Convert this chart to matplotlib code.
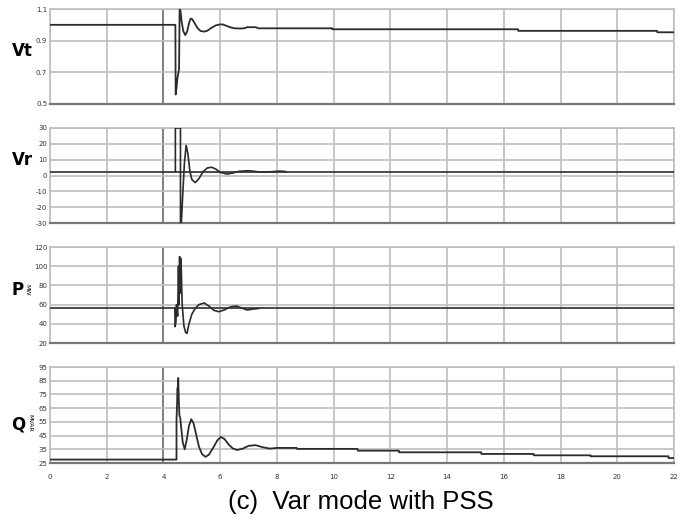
import matplotlib
matplotlib.use("Agg")
import matplotlib.pyplot as plt

# ---- simulated responses (time in s) ----
vt_time = [0.00, 4.42, 4.43, 4.46, 4.49, 4.52, 4.55, 4.57, 4.60, 4.64,
           4.70, 4.77, 4.84, 4.90, 4.96, 5.02, 5.10, 5.20, 5.30, 5.42,
           5.55, 5.70, 5.85, 6.00, 6.10, 6.20, 6.35, 6.50, 6.70, 6.85,
           6.95, 7.25, 7.35, 9.95, 9.96, 16.50, 16.51, 21.40, 21.41, 22.00]
vt_value = [1.000, 1.000, 0.560, 0.600, 0.660, 0.690, 0.720, 1.100, 1.090, 1.020,
            0.960, 0.935, 0.960, 1.010, 1.040, 1.035, 1.010, 0.980, 0.962, 0.957,
            0.963, 0.982, 0.997, 1.003, 1.002, 0.995, 0.985, 0.978, 0.977, 0.978,
            0.985, 0.985, 0.978, 0.978, 0.972, 0.972, 0.962, 0.962, 0.953, 0.953]

vr_base_time = [0.0, 22.0]
vr_base_value = [2.5, 2.5]
vr_time = [4.42, 4.42, 4.60, 4.60, 4.63, 4.68, 4.74, 4.80, 4.86, 4.93,
           5.00, 5.12, 5.25, 5.40, 5.55, 5.70, 5.85, 6.00, 6.24, 6.45,
           6.65, 6.95, 7.15, 7.35, 7.60, 7.90, 8.10, 8.30]
vr_value = [2.5, 30.0, 30.0, -30.0, -30.0, -12.0, 8.0, 19.0, 14.0, 3.0,
            -2.5, -4.5, -2.0, 2.5, 4.8, 5.2, 4.0, 2.0, 0.9, 1.6,
            2.6, 3.0, 2.8, 2.3, 2.2, 2.5, 2.8, 2.5]

p_base_time = [0.0, 22.0]
p_base_value = [56.5, 56.5]
p_time = [4.40, 4.41, 4.44, 4.46, 4.50, 4.53, 4.55, 4.57, 4.59, 4.61,
          4.63, 4.66, 4.72, 4.78, 4.83, 4.90, 5.00, 5.12, 5.25, 5.44,
          5.60, 5.78, 5.95, 6.15, 6.35, 6.57, 6.75, 6.95, 7.15, 7.36]
p_value = [56.5, 37.0, 42.0, 60.0, 48.0, 100.0, 60.0, 110.0, 72.0, 108.0,
           95.0, 60.0, 38.0, 31.0, 30.0, 40.0, 50.0, 56.0, 60.0, 61.7,
           58.5, 54.0, 52.6, 54.5, 57.5, 58.5, 56.5, 54.4, 55.3, 56.0]

q_time = [0.00, 4.46, 4.46, 4.48, 4.50, 4.51, 4.52, 4.54, 4.56, 4.59,
          4.63, 4.68, 4.75, 4.82, 4.90, 4.98, 5.06, 5.15, 5.25, 5.36,
          5.48, 5.60, 5.75, 5.90, 6.02, 6.15, 6.30, 6.45, 6.60, 6.80,
          7.00, 7.25, 7.50, 7.75, 8.00, 8.70, 8.71, 10.84, 10.85, 12.30,
          12.31, 15.20, 15.21, 17.05, 17.06, 19.05, 19.06, 21.80, 21.81, 22.00]
q_value = [27.5, 27.5, 56.0, 68.0, 80.0, 70.0, 87.0, 72.0, 60.0, 58.0,
           50.0, 40.0, 35.0, 42.0, 52.0, 57.0, 54.0, 46.0, 37.0, 31.5,
           29.5, 31.0, 36.0, 41.5, 44.0, 42.5, 38.5, 35.5, 34.5, 35.5,
           37.5, 38.0, 36.5, 35.5, 36.0, 36.0, 35.3, 35.3, 34.0, 34.0,
           32.8, 32.8, 31.6, 31.6, 30.6, 30.6, 29.9, 29.9, 28.6, 28.6]

x_ticks = [0, 2, 4, 6, 8, 10, 12, 14, 16, 18, 20, 22]
vt_ticks = [0.5, 0.7, 0.9, 1.1]
vt_labels = ["0.5", "0.7", "0.9", "1.1"]
vr_ticks = [-30, -20, -10, 0, 10, 20, 30]
p_ticks = [20, 40, 60, 80, 100, 120]
q_ticks = [25, 35, 45, 55, 65, 75, 85, 95]

narrow = ["Liberation Sans Narrow", "DejaVu Sans"]
line_col = "#2b2b2b"
grid_col = "#bdbdbd"

fig = plt.figure(figsize=(6.86, 5.18), dpi=100)
W, H = 686.0, 518.0
left, right = 50, 674
panels = [(9, 104), (128, 223), (247, 343), (367, 463)]
axes = []
for top, bot in panels:
    ax = fig.add_axes([left / W, 1 - bot / H, (right - left) / W, (bot - top) / H])
    axes.append(ax)


def style(ax, yticks, ylim, ylabels=None):
    ax.set_xlim(0, 22)
    ax.set_ylim(*ylim)
    ax.set_xticks(x_ticks)
    ax.set_yticks(yticks)
    if ylabels is None:
        ylabels = [str(v) for v in yticks]
    ax.set_yticklabels(ylabels, family=narrow, fontsize=5, color="#333333")
    ax.tick_params(length=0, pad=2)
    for x in x_ticks:
        ax.axvline(x, color=("#6a6a6a" if x == 4 else grid_col), lw=1.2, zorder=1)
    for y in yticks:
        ax.axhline(y, color=grid_col, lw=1.2, zorder=1)
    for side in ("top", "right", "left"):
        ax.spines[side].set_color(grid_col)
        ax.spines[side].set_linewidth(1.2)
    ax.spines["bottom"].set_color("#777777")
    ax.spines["bottom"].set_linewidth(1.6)


style(axes[0], vt_ticks, (0.5, 1.1), vt_labels)
axes[0].plot(vt_time, vt_value, color=line_col, lw=1.3, zorder=3)

style(axes[1], vr_ticks, (-30, 30))
axes[1].plot(vr_base_time, vr_base_value, color=line_col, lw=1.2, zorder=3)
axes[1].plot(vr_time, vr_value, color=line_col, lw=1.2, zorder=3)

style(axes[2], p_ticks, (20, 120))
axes[2].plot(p_base_time, p_base_value, color=line_col, lw=1.2, zorder=3)
axes[2].plot(p_time, p_value, color=line_col, lw=1.2, zorder=3)

style(axes[3], q_ticks, (25, 95))
axes[3].plot(q_time, q_value, color=line_col, lw=1.3, zorder=3)

for ax in axes[:3]:
    ax.set_xticklabels([])
axes[3].set_xticklabels([str(v) for v in x_ticks], family=narrow,
                        fontsize=5, color="#333333")
axes[3].tick_params(axis="x", pad=8)

bold = dict(family=narrow, fontweight="bold", fontsize=12, ha="center", va="center")
fig.text(22 / W, 1 - 51 / H, "Vt", **bold)
fig.text(22 / W, 1 - 160 / H, "Vr", **bold)
fig.text(18 / W, 1 - 290 / H, "P", **bold)
fig.text(27 / W, 1 - 290 / H, "MW", family=narrow, fontsize=4.5, rotation=270,
         ha="center", va="center")
fig.text(18 / W, 1 - 425 / H, "Q", **bold)
fig.text(29.5 / W, 1 - 423 / H, "MVAR", family=narrow, fontsize=4.5, rotation=270,
         ha="center", va="center")

fig.text(361 / W, 1 - 502 / H, "(c)  Var mode with PSS",
         family=["Liberation Sans", "DejaVu Sans"], fontsize=18.5,
         ha="center", va="center")

fig.savefig("out.png", dpi=100, facecolor="white")
